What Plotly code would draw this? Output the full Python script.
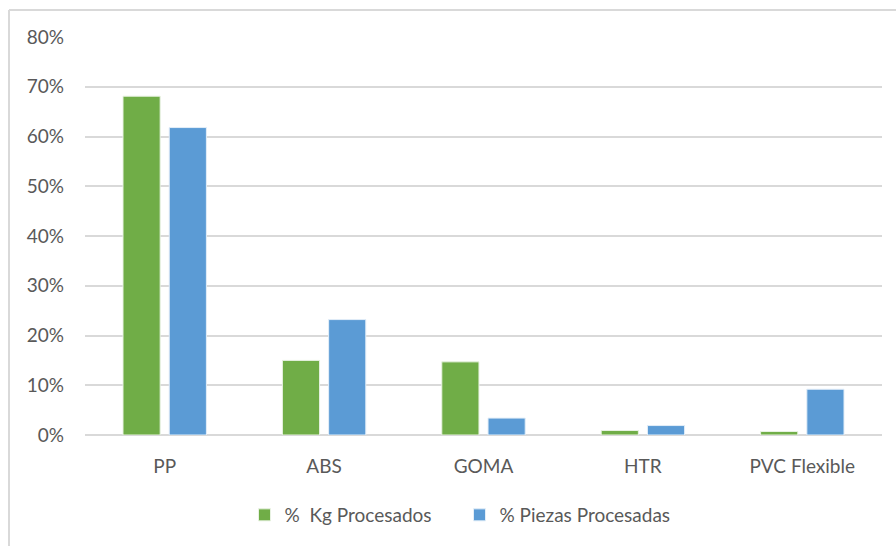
import plotly.graph_objects as go

categories = ["PP", "ABS", "GOMA", "HTR", "PVC Flexible"]
kg_pct = [0.681, 0.150, 0.147, 0.009, 0.007]
piezas_pct = [0.618, 0.232, 0.034, 0.019, 0.092]
series_names = ["%\u00a0 Kg Procesados", "% Piezas Procesadas"]
tick_vals = [0, 0.1, 0.2, 0.3, 0.4, 0.5, 0.6, 0.7, 0.8]
tick_text = ["0%", "10%", "20%", "30%", "40%", "50%", "60%", "70%", "80%"]

W, H = 896, 546
L, R, T, B = 85, 14, 37, 111
pw, ph = W - L - R, H - T - B

font = dict(family="Lato, 'Open Sans', sans-serif", size=19, color="#595959")

fig = go.Figure()
fig.add_trace(go.Bar(x=categories, y=kg_pct, name=series_names[0],
                     marker=dict(color="#70AD47", line=dict(color="#E8F2E2", width=1))))
fig.add_trace(go.Bar(x=categories, y=piezas_pct, name=series_names[1],
                     marker=dict(color="#5B9BD5", line=dict(color="#E3EEF8", width=1))))

fig.update_layout(
    width=W, height=H,
    margin=dict(l=L, r=R, t=T, b=B),
    paper_bgcolor="white", plot_bgcolor="white",
    barmode="group", bargap=0.42, bargroupgap=0.196,
    font=font,
    hovermode=False,
    showlegend=True,
    legend=dict(orientation="h", x=0.5 - 24 / pw, xanchor="center", y=(435 - 515) / ph, yanchor="middle",
                font=font, itemwidth=30, entrywidth=170, traceorder="normal"),
    xaxis=dict(showgrid=False, showline=False, ticks="", tickfont=font,
               ticklabelstandoff=18),
    yaxis=dict(range=[0, 0.8], tickvals=tick_vals, ticktext=tick_text,
               showgrid=True, gridcolor="#D9D9D9", gridwidth=2,
               zeroline=True, zerolinecolor="#D9D9D9", zerolinewidth=2,
               showline=False, ticks="", tickfont=font, ticklabelstandoff=20),
    shapes=[
        dict(type="line", xref="paper", yref="paper",
             x0=(9 - L) / pw, x1=(W - L) / pw + 0.01,
             y0=1 + (T - 10) / ph, y1=1 + (T - 10) / ph,
             line=dict(color="#D9D9D9", width=2)),
        dict(type="line", xref="paper", yref="paper",
             x0=(9 - L) / pw, x1=(9 - L) / pw,
             y0=1 + (T - 10) / ph, y1=-(B + 5) / ph,
             line=dict(color="#D9D9D9", width=2)),
    ],
)

fig.write_html("out.html")
